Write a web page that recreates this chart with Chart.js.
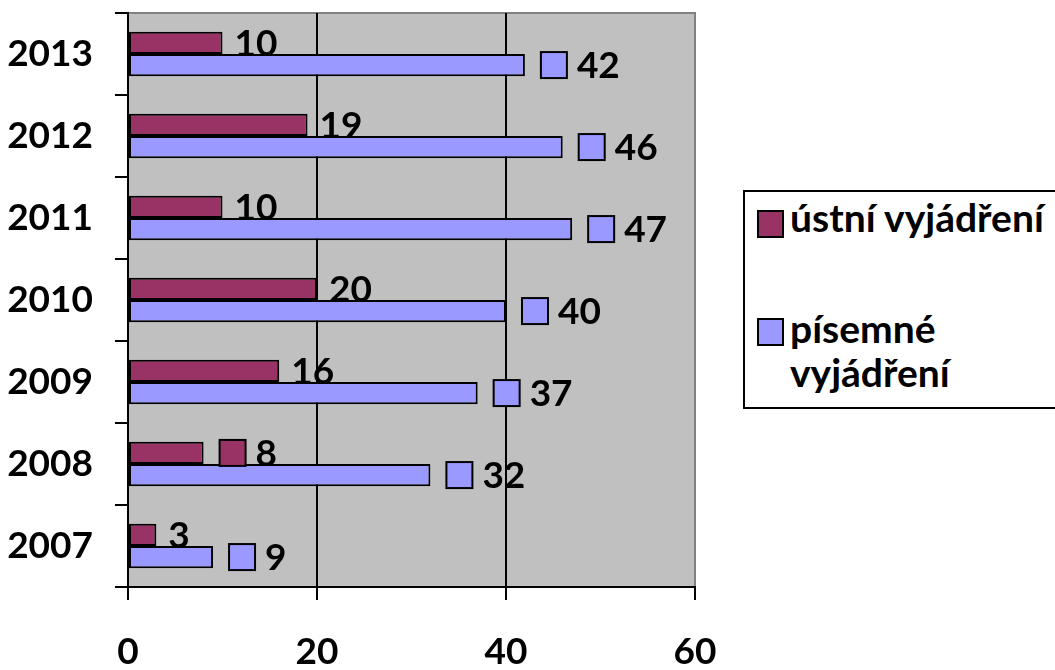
<!DOCTYPE html>
<html>
<head>
<meta charset="utf-8">
<script src="https://cdn.jsdelivr.net/npm/chart.js@4"></script>
<style>
  html, body { margin: 0; padding: 0; background: #fff; overflow: hidden; }
  #wrap { position: relative; width: 1055px; height: 670px; overflow: hidden; }
  #chart { display: block; }
  #legend {
    position: absolute; left: 743px; top: 190px; width: 420px; height: 219px;
    border: 2px solid #000; box-sizing: border-box; background: #fff;
    font-family: Lato, "Open Sans", sans-serif; font-weight: bold; font-size: 39px; color: #000;
  }
  .item { position: absolute; left: 12px; }
  .key { position: absolute; left: 0; width: 23px; height: 24px; border: 2px solid #000; }
  .txt { position: absolute; left: 33px; white-space: nowrap; line-height: 44px; }
</style>
</head>
<body>
<div id="wrap">
  <canvas id="chart" width="1055" height="670"></canvas>
  <div id="legend"></div>
</div>
<script>
// Years, top to bottom
const years = ['2013', '2012', '2011', '2010', '2009', '2008', '2007'];
// ústní vyjádření (oral statements)
const ustni = [10, 19, 10, 20, 16, 8, 3];
// písemné vyjádření (written statements)
const pisemne = [42, 46, 47, 40, 37, 32, 9];
// value axis ticks
const xTicks = [0, 20, 40, 60];
// which value labels carry a legend key next to the number
const ustniKeyShown = [false, false, false, false, false, true, false];
const pisemneKeyShown = [true, true, true, true, true, true, true];

const seriesNames = ['ústní vyjádření', 'písemné vyjádření'];
const seriesColors = ['#993366', '#9999FF'];
const keyShown = [ustniKeyShown, pisemneKeyShown];

const FONT = 'Lato, "Open Sans", sans-serif';
const FONT_SIZE = 37;

// grey plot area with a thin grey frame on top and right
const plotBackground = {
  id: 'plotBackground',
  beforeDraw(chart) {
    const { ctx, chartArea: a } = chart;
    ctx.save();
    ctx.fillStyle = '#C0C0C0';
    ctx.fillRect(a.left, a.top, a.right - a.left, a.bottom - a.top);
    ctx.strokeStyle = '#808080';
    ctx.lineWidth = 2;
    ctx.beginPath();
    ctx.moveTo(a.left, a.top);
    ctx.lineTo(a.right, a.top);
    ctx.lineTo(a.right, a.bottom);
    ctx.stroke();
    ctx.restore();
  }
};

// numbers at the end of each bar, optionally preceded by the series key
const valueLabels = {
  id: 'valueLabels',
  afterDatasetsDraw(chart) {
    const ctx = chart.ctx;
    ctx.save();
    ctx.font = 'bold ' + FONT_SIZE + 'px ' + FONT;
    ctx.textBaseline = 'middle';
    ctx.textAlign = 'left';
    chart.data.datasets.forEach((ds, di) => {
      const meta = chart.getDatasetMeta(di);
      meta.data.forEach((bar, i) => {
        const x = bar.x, y = bar.y;
        let tx = x + 12;
        if (keyShown[di][i]) {
          ctx.fillStyle = ds.backgroundColor;
          ctx.fillRect(x + 16, y - 13, 26, 26);
          ctx.strokeStyle = '#000';
          ctx.lineWidth = 2;
          ctx.strokeRect(x + 16, y - 13, 26, 26);
          tx = x + 52;
        }
        ctx.fillStyle = '#000';
        ctx.fillText(String(ds.data[i]), tx, y + 1);
      });
    });
    ctx.restore();
  }
};

// legend box to the right
const legendEl = document.getElementById('legend');
legendEl.innerHTML =
  '<div class="item" style="top:18px"><div class="key" style="top:0;background:' + seriesColors[0] + '"></div>' +
  '<div class="txt" style="top:-15px">ústní vyjádření</div></div>' +
  '<div class="item" style="top:126px"><div class="key" style="top:0;background:' + seriesColors[1] + '"></div>' +
  '<div class="txt" style="top:-12px">písemné<br>vyjádření</div></div>';

function build() {
  new Chart(document.getElementById('chart'), {
    type: 'bar',
    data: {
      labels: years,
      datasets: [
        { label: seriesNames[0], data: ustni, backgroundColor: seriesColors[0], borderColor: '#000', borderWidth: 2, borderSkipped: false },
        { label: seriesNames[1], data: pisemne, backgroundColor: seriesColors[1], borderColor: '#000', borderWidth: 2, borderSkipped: false }
      ]
    },
    options: {
      indexAxis: 'y',
      responsive: false,
      animation: false,
      barPercentage: 1,
      categoryPercentage: 0.54,
      layout: { padding: { top: 13, right: 360, bottom: 0, left: 0 } },
      plugins: { legend: { display: false }, tooltip: { enabled: false } },
      scales: {
        x: {
          min: 0, max: 60,
          afterBuildTicks(scale) { scale.ticks = xTicks.map(v => ({ value: v })); },
          afterFit(scale) { scale.height = 83; scale.paddingLeft = 0; scale.paddingRight = 0; },
          ticks: { color: '#000', font: { family: FONT, size: FONT_SIZE, weight: 'bold' }, padding: 30, maxRotation: 0 },
          grid: {
            color: ctx => (ctx.tick && ctx.tick.value === 60 ? '#808080' : '#000'),
            tickColor: '#000', lineWidth: 2, tickLength: 13
          },
          border: { color: '#000', width: 2 }
        },
        y: {
          afterFit(scale) { scale.width = 128; scale.paddingTop = 0; scale.paddingBottom = 0; },
          ticks: { color: '#000', font: { family: FONT, size: FONT_SIZE, weight: 'bold' }, padding: 22 },
          grid: { drawOnChartArea: false, color: '#000', lineWidth: 2, tickLength: 13 },
          border: { color: '#000', width: 2 }
        }
      }
    },
    plugins: [plotBackground, valueLabels]
  });
}

if (document.fonts && document.fonts.load) {
  document.fonts.load('bold ' + FONT_SIZE + 'px Lato').then(build, build);
} else {
  build();
}
</script>
</body>
</html>
